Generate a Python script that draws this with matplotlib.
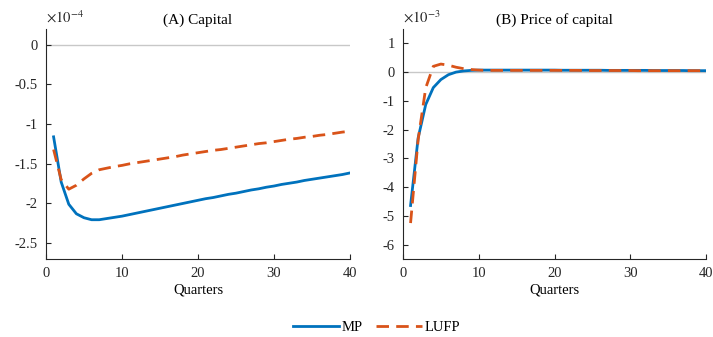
import matplotlib
matplotlib.use("Agg")
import matplotlib.pyplot as plt
import numpy as np

plt.rcParams['font.family'] = ['Liberation Serif', 'DejaVu Serif']
plt.rcParams['mathtext.fontset'] = 'stix'

quarters = list(range(1, 41))

capital_mp = [-1.16, -1.73, -2.01, -2.13, -2.18, -2.205, -2.205, -2.19, -2.175, -2.16,
              -2.14, -2.12, -2.10, -2.08, -2.06, -2.04, -2.02, -2.00, -1.98, -1.96,
              -1.94, -1.925, -1.905, -1.885, -1.87, -1.85, -1.83, -1.815, -1.795, -1.78,
              -1.76, -1.745, -1.73, -1.71, -1.695, -1.68, -1.665, -1.65, -1.635, -1.615]
capital_lufp = [-1.32, -1.70, -1.82, -1.77, -1.69, -1.62, -1.575, -1.555, -1.535, -1.52,
                -1.50, -1.485, -1.47, -1.455, -1.44, -1.425, -1.41, -1.39, -1.375, -1.36,
                -1.345, -1.33, -1.32, -1.305, -1.29, -1.275, -1.26, -1.245, -1.235, -1.22,
                -1.205, -1.19, -1.18, -1.165, -1.155, -1.14, -1.13, -1.115, -1.10, -1.09]

price_mp = [-4.64, -2.29, -1.13, -0.54, -0.26, -0.09, 0.0, 0.04, 0.06, 0.07,
            0.07, 0.07, 0.07, 0.07, 0.07, 0.07, 0.07, 0.07, 0.07, 0.07,
            0.065, 0.065, 0.065, 0.065, 0.065, 0.065, 0.06, 0.06, 0.06, 0.06,
            0.06, 0.06, 0.055, 0.055, 0.055, 0.055, 0.055, 0.05, 0.05, 0.05]
price_lufp = [-5.25, -2.35, -0.55, 0.20, 0.28, 0.24, 0.17, 0.12, 0.09, 0.07,
              0.06, 0.06, 0.06, 0.06, 0.06, 0.06, 0.06, 0.06, 0.06, 0.06,
              0.06, 0.06, 0.06, 0.055, 0.055, 0.055, 0.055, 0.055, 0.055, 0.055,
              0.05, 0.05, 0.05, 0.05, 0.05, 0.05, 0.05, 0.05, 0.05, 0.05]

series_labels = ["MP", "LUFP"]
titles = ["(A) Capital", "(B) Price of capital"]
exponents = ["$\\times10^{-4}$", "$\\times10^{-3}$"]

blue = "#0072BD"
orange = "#D95319"

fig = plt.figure(figsize=(7.13, 3.37), dpi=100)
axA = fig.add_axes([0.0645, 0.2315, 0.4264, 0.6825])
axB = fig.add_axes([0.5652, 0.2315, 0.4250, 0.6825])

panels = [
    (axA, capital_mp, capital_lufp, (-2.7, 0.2), [0, -0.5, -1, -1.5, -2, -2.5], ["0", "-0.5", "-1", "-1.5", "-2", "-2.5"]),
    (axB, price_mp, price_lufp, (-6.5, 1.5), [1, 0, -1, -2, -3, -4, -5, -6], ["1", "0", "-1", "-2", "-3", "-4", "-5", "-6"]),
]

lines = []
for i, (ax, mp, lufp, ylim, yt, ytl) in enumerate(panels):
    ax.axhline(0, color="#c8c8c8", lw=1.0, zorder=1)
    l1, = ax.plot(quarters, mp, color=blue, lw=2.0, zorder=3, label=series_labels[0])
    l2, = ax.plot(quarters, lufp, color=orange, lw=2.0, ls=(0, (4.5, 2.6)), zorder=4, label=series_labels[1])
    lines = [l1, l2]
    ax.set_xlim(0, 40)
    ax.set_ylim(*ylim)
    ax.set_xticks([0, 10, 20, 30, 40])
    ax.set_yticks(yt)
    ax.set_yticklabels(ytl)
    ax.tick_params(direction="in", length=3.5, width=0.8, labelsize=10.5, colors="#262626", pad=6)
    for s in ["top", "right"]:
        ax.spines[s].set_visible(False)
    for s in ["left", "bottom"]:
        ax.spines[s].set_color("#262626")
        ax.spines[s].set_linewidth(0.8)
    ax.set_title(titles[i], fontsize=11, pad=4)
    ax.set_xlabel("Quarters", fontsize=10.5, labelpad=2)
    ax.text(0.0, 1.015, exponents[i], transform=ax.transAxes, fontsize=10.5,
            ha="left", va="bottom", color="#262626")

fig.legend(lines, series_labels, loc="lower center", bbox_to_anchor=(0.528, -0.03),
           ncol=2, frameon=False, fontsize=10.5, handlelength=3.2, columnspacing=0.9,
           handletextpad=0.15)

fig.savefig("out.png", dpi=100)
